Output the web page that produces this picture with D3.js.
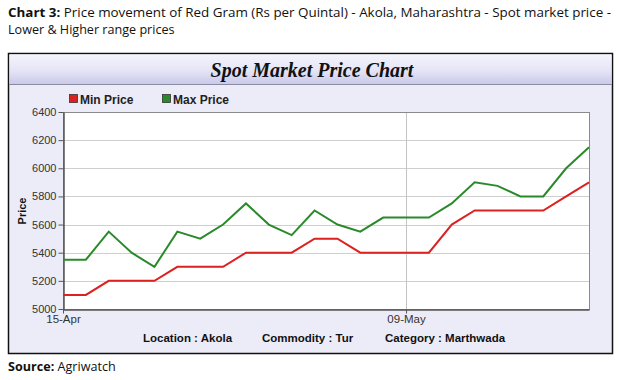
<!DOCTYPE html>
<html><head><meta charset="utf-8">
<script src="https://cdn.jsdelivr.net/npm/d3@7"></script>
<style>body{margin:0;background:#fff}svg{display:block}</style>
</head><body>
<script>
const dates = ["15-Apr","16-Apr","17-Apr","18-Apr","19-Apr","20-Apr","22-Apr","23-Apr","24-Apr","25-Apr","26-Apr","27-Apr","29-Apr","30-Apr","01-May","02-May","03-May","04-May","06-May","07-May","08-May","09-May","10-May","11-May"];
const minPrice = [5100,5100,5200,5200,5200,5300,5300,5300,5400,5400,5400,5500,5500,5400,5400,5400,5400,5600,5700,5700,5700,5700,5800,5900];
const maxPrice = [5350,5350,5550,5400,5300,5550,5500,5600,5750,5600,5525,5700,5600,5550,5650,5650,5650,5750,5900,5875,5800,5800,6000,6150];
const yTicks = [5000,5200,5400,5600,5800,6000,6200,6400];
const xLabelIdx = [0,15];
const xLabels = ["15-Apr","09-May"];
const seriesNames = ["Min Price","Max Price"];
const seriesColors = ["#dd2020","#2a8a2a"];

const W=619,H=380;
const svg=d3.select("body").append("svg").attr("width",W).attr("height",H);
const defs=svg.append("defs");
const g1=defs.append("linearGradient").attr("id","tb").attr("x1",0).attr("y1",0).attr("x2",0).attr("y2",1);
g1.append("stop").attr("offset","0%").attr("stop-color","#f4f4fc");
g1.append("stop").attr("offset","55%").attr("stop-color","#e4e4f6");
g1.append("stop").attr("offset","100%").attr("stop-color","#c8c8ea");

// header
const hf='"Open Sans","Noto Sans",sans-serif';
const h1=svg.append("text").attr("x",8).attr("y",17).attr("font-family",hf).attr("font-size",12.6).attr("fill","#111");
h1.append("tspan").attr("font-weight","bold").text("Chart 3:");
h1.append("tspan").text(" Price movement of Red Gram (Rs per Quintal) - Akola, Maharashtra - Spot market price -");
h1.attr("textLength",603).attr("lengthAdjust","spacingAndGlyphs");
svg.append("text").attr("x",8).attr("y",34).attr("font-family",hf).attr("font-size",12.6).attr("fill","#111").text("Lower & Higher range prices");

// panel
svg.append("rect").attr("x",8.5).attr("y",53.5).attr("width",604).attr("height",300).attr("fill","#ececf9").attr("stroke","#111").attr("stroke-width",1.5);
svg.append("rect").attr("x",9.5).attr("y",54.5).attr("width",602).attr("height",30).attr("fill","url(#tb)");
svg.append("line").attr("x1",9).attr("x2",612).attr("y1",84.5).attr("y2",84.5).attr("stroke","#8a8aa0");
svg.append("text").attr("x",312).attr("y",77).attr("text-anchor","middle").attr("font-family",'"Liberation Serif","DejaVu Serif",serif').attr("font-weight","bold").attr("font-style","italic").attr("font-size",20).attr("fill","#111").text("Spot Market Price Chart");

const L=63,R=589,T=112,B=309;
const x=d3.scaleLinear().domain([0,dates.length-1]).range([L,R]);
const y=d3.scaleLinear().domain([5000,6400]).range([B,T]);
svg.append("rect").attr("x",L).attr("y",T).attr("width",R-L).attr("height",B-T).attr("fill","#fff");

// grid
svg.append("g").selectAll("line").data(yTicks.slice(1,-1)).join("line")
 .attr("x1",L).attr("x2",R).attr("y1",d=>Math.round(y(d))+0.5).attr("y2",d=>Math.round(y(d))+0.5).attr("stroke","#cfcfcf");
svg.append("line").attr("x1",Math.round(x(15))+0.5).attr("x2",Math.round(x(15))+0.5).attr("y1",T).attr("y2",B).attr("stroke","#c4c4c4");
svg.append("rect").attr("x",L+0.5).attr("y",T+0.5).attr("width",R-L).attr("height",B-T).attr("fill","none").attr("stroke","#8a8a8a");

// axes
const yAx=svg.append("g").attr("transform",`translate(${L+0.5},0)`).call(d3.axisLeft(y).tickValues(yTicks).tickSize(5).tickSizeOuter(0).tickPadding(2).tickFormat(d3.format("d")));
const xAx=svg.append("g").attr("transform",`translate(0,${B+0.5})`).call(d3.axisBottom(x).tickValues(xLabelIdx).tickSize(4).tickSizeOuter(0).tickPadding(1).tickFormat((d,i)=>xLabels[i]));
[yAx,xAx].forEach(a=>{a.select(".domain").attr("stroke","#555").attr("stroke-width",1.5);a.selectAll(".tick line").attr("stroke","#555");
 a.selectAll("text").attr("font-family",'"Liberation Sans",Arial,sans-serif').attr("font-size",11).attr("fill","#333");});
xAx.selectAll("text").attr("font-size",11.5);

// lines
[minPrice,maxPrice].forEach((s,k)=>{
 svg.append("path").datum(s).attr("fill","none").attr("stroke",seriesColors[k]).attr("stroke-width",2)
  .attr("d",d3.line().x((d,i)=>x(i)).y(d=>y(d)));
});

// legend
const lg=[{x:69,t:seriesNames[0],c:seriesColors[0]},{x:162,t:seriesNames[1],c:seriesColors[1]}];
lg.forEach(o=>{
 svg.append("rect").attr("x",o.x+0.5).attr("y",94.5).attr("width",8).attr("height",8).attr("fill",o.c).attr("stroke","#333").attr("stroke-width",0.8);
 svg.append("text").attr("x",o.x+11).attr("y",103.5).attr("font-family",'"Liberation Sans",Arial,sans-serif').attr("font-weight","bold").attr("font-size",12).attr("fill","#222").text(o.t);
});

// y label
svg.append("text").attr("transform","translate(26,211) rotate(-90)").attr("text-anchor","middle").attr("font-family",'"Liberation Sans",Arial,sans-serif').attr("font-weight","bold").attr("font-size",11).attr("fill","#111").text("Price");

// footer labels
const foot=[["Location : Akola",143],["Commodity : Tur",262],["Category : Marthwada",385]];
foot.forEach(f=>svg.append("text").attr("x",f[1]).attr("y",342).attr("font-family",'"Liberation Sans",Arial,sans-serif').attr("font-weight","bold").attr("font-size",11.5).attr("fill","#111").text(f[0]));

// source
const s=svg.append("text").attr("x",8).attr("y",371).attr("font-family",hf).attr("font-size",12.6).attr("fill","#111");
s.append("tspan").attr("font-weight","bold").text("Source:");
s.append("tspan").text(" Agriwatch");
</script>
</body></html>
